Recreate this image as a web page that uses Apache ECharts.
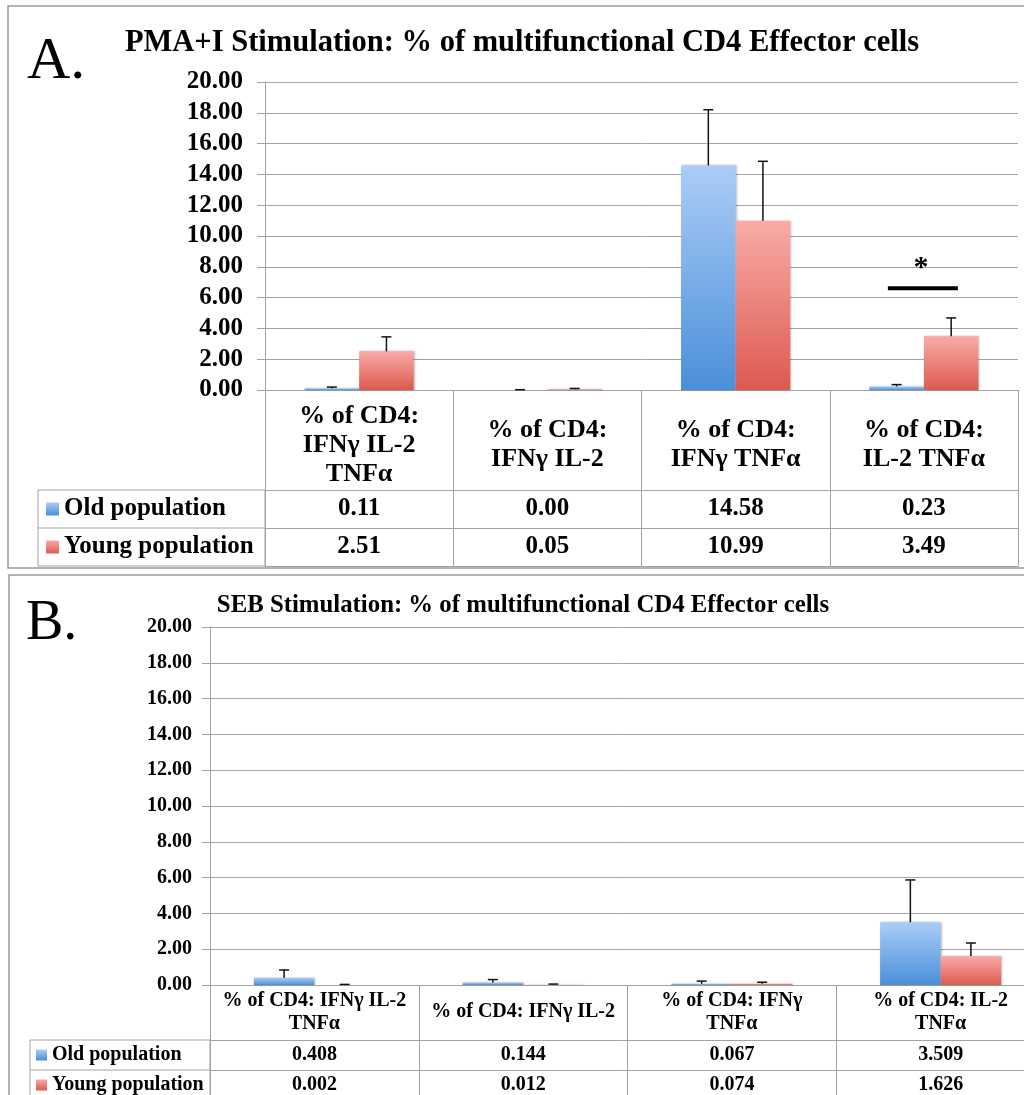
<!DOCTYPE html>
<html>
<head>
<meta charset="utf-8">
<script src="https://cdn.jsdelivr.net/npm/echarts@6/dist/echarts.min.js"></script>
<style>
  html, body { margin: 0; padding: 0; background: #fff; }
  #chart { width: 1024px; height: 1095px; }
</style>
</head>
<body>
<div id="chart"></div>
<script>
// panel A: PMA+I
const categoriesA = ['% of CD4:\nIFNγ IL-2\nTNFα', '% of CD4:\nIFNγ IL-2', '% of CD4:\nIFNγ TNFα', '% of CD4:\nIL-2 TNFα']
const oldA = [0.11, 0.00, 14.58, 0.23]
const youngA = [2.51, 0.05, 10.99, 3.49]
const oldErrA = [0.08, 0.02, 3.62, 0.12]
const youngErrA = [0.94, 0.05, 3.86, 1.19]
const sigA = [[3, 6.6, 7.9]] // category, bar level, star level

// panel B: SEB
const categoriesB = ['% of CD4: IFNγ IL-2\nTNFα', '% of CD4: IFNγ IL-2', '% of CD4: IFNγ\nTNFα', '% of CD4: IL-2\nTNFα']
const oldB = [0.408, 0.144, 0.067, 3.509]
const youngB = [0.002, 0.012, 0.074, 1.626]
const oldErrB = [0.43, 0.16, 0.15, 2.36]
const youngErrB = [0.03, 0.04, 0.08, 0.72]

const seriesNames = ['Old population', 'Young population']
const yMin = 0, yMax = 20, yStep = 2

const FONT = '"Liberation Serif", "Times New Roman", serif'
const GRAY = '#a3a3a3'
const GAP = 0.42

const blueGrad = new echarts.graphic.LinearGradient(0, 0, 0, 1, [
  { offset: 0, color: '#abcdf7' }, { offset: 1, color: '#4a8fd9' }
])
const redGrad = new echarts.graphic.LinearGradient(0, 0, 0, 1, [
  { offset: 0, color: '#f9aba7' }, { offset: 1, color: '#dc5a50' }
])

function errSeries(xi, yi, vals, errs, side) {
  return {
    type: 'custom',
    xAxisIndex: xi,
    yAxisIndex: yi,
    z: 5,
    silent: true,
    data: vals.map((v, i) => [i, v, errs[i]]),
    renderItem(params, api) {
      const band = api.size([1, 0])[0]
      const bw = band * (1 - GAP) / 2
      const x = api.coord([api.value(0), 0])[0] + side * bw / 2
      const base = api.coord([api.value(0), api.value(1)])[1]
      const top = api.coord([api.value(0), api.value(1) + api.value(2)])[1]
      const st = { stroke: '#111', lineWidth: 1.5 }
      return {
        type: 'group',
        children: [
          { type: 'line', shape: { x1: x, y1: base, x2: x, y2: top }, style: st },
          { type: 'line', shape: { x1: x - 5, y1: top, x2: x + 5, y2: top }, style: st }
        ]
      }
    }
  }
}

function barSeries(name, xi, yi, vals, color) {
  return {
    name, type: 'bar', xAxisIndex: xi, yAxisIndex: yi,
    data: vals, barGap: 0, barCategoryGap: (GAP * 100) + '%',
    itemStyle: { color, shadowColor: 'rgba(0,0,0,0.25)', shadowBlur: 2, shadowOffsetX: 1 }
  }
}

function valueAxis(gi, fontSize, margin) {
  return {
    type: 'value', gridIndex: gi, min: yMin, max: yMax, interval: yStep,
    axisLine: { show: true, lineStyle: { color: GRAY } },
    axisTick: { show: true, length: 8, lineStyle: { color: GRAY } },
    splitLine: { show: true, lineStyle: { color: GRAY } },
    axisLabel: {
      margin, color: '#000', fontFamily: FONT, fontWeight: 'bold', fontSize,
      formatter: v => v.toFixed(2)
    }
  }
}

function rowAxis(gi, data, offset, margin, fontSize, showLabel) {
  return {
    type: 'category', gridIndex: gi, position: 'bottom', offset, data,
    axisLine: { show: true, lineStyle: { color: GRAY } },
    axisTick: { show: false },
    axisLabel: {
      show: showLabel, interval: 0, margin, verticalAlign: 'middle',
      color: '#000', fontFamily: FONT, fontWeight: 'bold', fontSize
    }
  }
}

function headAxis(gi, data, margin, fontSize, lineHeight, tickLen) {
  return {
    type: 'category', gridIndex: gi, position: 'bottom', data,
    axisLine: { show: true, lineStyle: { color: GRAY } },
    axisTick: { show: true, alignWithLabel: false, interval: 0, length: tickLen, lineStyle: { color: GRAY } },
    axisLabel: {
      interval: 0, margin, verticalAlign: 'middle', align: 'center',
      color: '#000', fontFamily: FONT, fontWeight: 'bold', fontSize, lineHeight
    }
  }
}

const chart = echarts.init(document.getElementById('chart'))

const option = {
  animation: false,
  backgroundColor: '#fff',
  grid: [
    { left: 265, top: 82, width: 753, height: 308, outerBoundsMode: 'none' },
    { left: 210, top: 627, width: 835, height: 358, outerBoundsMode: 'none' }
  ],
  xAxis: [
    headAxis(0, categoriesA, 55, 26, 29, 176),
    rowAxis(0, oldA.map(v => v.toFixed(2)), 100, 19, 25, true),
    rowAxis(0, youngA.map(v => v.toFixed(2)), 138, 19, 25, true),
    rowAxis(0, categoriesA, 176, 10, 21, false),
    headAxis(1, categoriesB, 27, 20, 23, 115),
    rowAxis(1, oldB.map(v => v.toFixed(3)), 55, 15, 20, true),
    rowAxis(1, youngB.map(v => v.toFixed(3)), 85, 15, 20, true)
  ],
  yAxis: [valueAxis(0, 25, 22), valueAxis(1, 20, 18)],
  legend: [
    {
      orient: 'vertical', left: 46, top: 496, height: 90, padding: 0,
      itemWidth: 13, itemHeight: 13, itemGap: 12,
      icon: 'rect', data: seriesNames, selectedMode: false,
      textStyle: { fontFamily: FONT, fontWeight: 'bold', fontSize: 25, lineHeight: 26, color: '#000' }
    },
    {
      orient: 'vertical', left: 36, top: 1044, height: 80, padding: 0,
      itemWidth: 11, itemHeight: 11, itemGap: 8,
      icon: 'rect', data: seriesNames, selectedMode: false,
      textStyle: { fontFamily: FONT, fontWeight: 'bold', fontSize: 20, lineHeight: 22, color: '#000' }
    }
  ],
  series: [
    barSeries(seriesNames[0], 0, 0, oldA, blueGrad),
    barSeries(seriesNames[1], 0, 0, youngA, redGrad),
    errSeries(0, 0, oldA, oldErrA, -1),
    errSeries(0, 0, youngA, youngErrA, 1),
    {
      type: 'custom', xAxisIndex: 0, yAxisIndex: 0, z: 6, silent: true,
      data: sigA,
      renderItem(params, api) {
        const c = api.coord([api.value(0), api.value(1)])
        const s = api.coord([api.value(0), api.value(2)])
        return {
          type: 'group',
          children: [
            { type: 'line', shape: { x1: c[0] - 36, y1: c[1], x2: c[0] + 34, y2: c[1] },
              style: { stroke: '#000', lineWidth: 4 } },
            { type: 'text', x: s[0] - 3, y: s[1],
              style: { text: '*', fontSize: 30, fontWeight: 'bold', fontFamily: FONT,
                fill: '#000', align: 'center', verticalAlign: 'middle' } }
          ]
        }
      }
    },
    barSeries(seriesNames[0], 4, 1, oldB, blueGrad),
    barSeries(seriesNames[1], 4, 1, youngB, redGrad),
    errSeries(4, 1, oldB, oldErrB, -1),
    errSeries(4, 1, youngB, youngErrB, 1)
  ],
  graphic: [
    // panel frames
    { type: 'rect', shape: { x: 8, y: 6, width: 1040, height: 562 }, style: { fill: 'none', stroke: '#9a9a9a', lineWidth: 1.5 }, silent: true },
    { type: 'rect', shape: { x: 9, y: 575, width: 1040, height: 560 }, style: { fill: 'none', stroke: '#9a9a9a', lineWidth: 1.5 }, silent: true },
    // panel letters
    { type: 'text', x: 27, y: 32, style: { text: 'A.', fontFamily: FONT, fontSize: 60, fill: '#000' }, silent: true },
    { type: 'text', x: 26, y: 596, style: { text: 'B.', fontFamily: FONT, fontSize: 56, fill: '#000' }, silent: true },
    // titles
    { type: 'text', x: 522, y: 43, style: { text: 'PMA+I Stimulation: % of multifunctional CD4 Effector cells', fontFamily: FONT, fontWeight: 'bold', fontSize: 30.5, fill: '#000', align: 'center', verticalAlign: 'middle' }, silent: true },
    { type: 'text', x: 523, y: 606, style: { text: 'SEB Stimulation: % of multifunctional CD4 Effector cells', fontFamily: FONT, fontWeight: 'bold', fontSize: 24.8, fill: '#000', align: 'center', verticalAlign: 'middle' }, silent: true },
    // legend cell boxes of the data tables
    { type: 'rect', shape: { x: 38, y: 490, width: 227, height: 76 }, style: { fill: 'none', stroke: GRAY }, silent: true },
    { type: 'line', shape: { x1: 38, y1: 528, x2: 265, y2: 528 }, style: { stroke: GRAY }, silent: true },
    { type: 'rect', shape: { x: 30, y: 1040, width: 180, height: 70 }, style: { fill: 'none', stroke: GRAY }, silent: true },
    { type: 'line', shape: { x1: 30, y1: 1070, x2: 210, y2: 1070 }, style: { stroke: GRAY }, silent: true }
  ]
}

chart.setOption(option)
</script>
</body>
</html>
